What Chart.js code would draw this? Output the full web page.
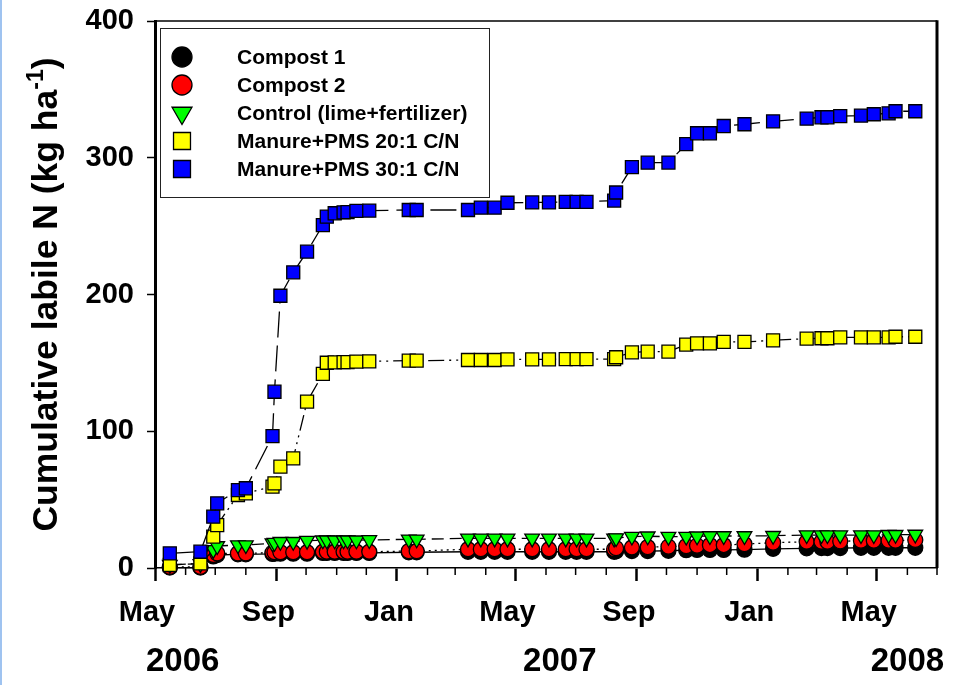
<!DOCTYPE html>
<html>
<head>
<meta charset="utf-8">
<script src="https://cdn.jsdelivr.net/npm/chart.js@4.4.1/dist/chart.umd.min.js"></script>
<style>
  html, body { margin: 0; padding: 0; background: #fff; }
  #wrap { position: relative; width: 961px; height: 685px; }
  #edge { position: absolute; left: 0; top: 0; width: 2px; height: 685px; background: #9fc3f0; }
</style>
</head>
<body>
<div id="wrap"><canvas id="chart" width="961" height="685"></canvas><div id="edge"></div></div>
<script>
'use strict'

// time axis runs from May 2006 to July 2008
const startDate = '2006-05-01';
const endDate = '2008-07-01';

const sampleDates = [
  '2006-05-16','2006-06-16','2006-06-29','2006-07-03','2006-07-24','2006-08-01','2006-08-28','2006-08-30',
  '2006-09-05','2006-09-18','2006-10-02','2006-10-18','2006-10-22','2006-10-30','2006-11-08','2006-11-12',
  '2006-11-21','2006-12-04','2007-01-13','2007-01-21','2007-03-14','2007-03-27','2007-04-10','2007-04-23',
  '2007-05-18','2007-06-04','2007-06-21','2007-07-02','2007-07-12','2007-08-09','2007-08-11','2007-08-27',
  '2007-09-12','2007-10-03','2007-10-21','2007-11-01','2007-11-14','2007-11-28','2007-12-19','2008-01-17',
  '2008-02-20','2008-03-06','2008-03-12','2008-03-25','2008-04-15','2008-04-28','2008-05-13','2008-05-20',
  '2008-06-09'
];

const compost1 = [0.3, 0.3, 8.5, 9.5, 10.0, 10.0, 10.3, 10.5, 10.5, 10.5, 10.5, 11.0, 11.0, 11.0, 11.0, 11.0,
  11.0, 11.0, 11.5, 11.5, 11.9, 11.9, 11.9, 11.9, 11.9, 11.9, 11.9, 11.9, 11.9, 11.9, 12.2, 12.4,
  12.4, 12.6, 13.0, 13.2, 13.2, 13.2, 13.4, 14.0, 14.4, 14.6, 14.6, 14.6, 14.8, 14.8, 14.8, 14.8, 14.8];
const compost2 = [0.8, 0.8, 9.5, 10.7, 10.7, 10.7, 11.2, 11.5, 11.5, 11.5, 11.5, 11.9, 11.9, 11.9, 11.9, 11.9,
  11.9, 11.9, 12.4, 12.4, 13.7, 13.7, 13.7, 13.7, 13.7, 13.7, 13.7, 13.7, 13.7, 13.7, 14.5, 15.0,
  15.3, 15.6, 16.0, 16.3, 16.8, 16.8, 17.5, 18.5, 19.2, 19.2, 19.2, 19.5, 20.0, 20.0, 20.0, 20.0, 20.5];
const control = [2.5, 3.0, 13.2, 16.1, 16.8, 16.8, 18.1, 18.5, 19.2, 19.2, 20.0, 20.3, 20.3, 20.3, 20.3, 20.3,
  20.3, 20.5, 21.0, 21.0, 21.7, 21.7, 21.7, 21.7, 21.7, 21.7, 21.7, 21.7, 21.7, 21.7, 21.9, 23.0,
  23.2, 22.9, 23.0, 23.2, 23.4, 23.4, 23.4, 23.6, 24.1, 24.1, 24.1, 24.1, 24.1, 24.1, 24.3, 24.3, 24.5];
const manure20 = [2.2, 3.4, 22.9, 31.4, 53.4, 54.6, 59.5, 61.9, 74.1, 80.2, 121.6, 141.9, 150.1, 150.4, 150.5, 150.6,
  150.9, 151.1, 151.6, 151.6, 152.1, 152.1, 152.1, 152.6, 152.6, 152.6, 152.8, 152.8, 152.8, 152.8, 154.1, 157.7,
  158.2, 158.2, 163.4, 164.3, 164.3, 165.3, 165.3, 166.5, 167.7, 168.0, 168.0, 168.7, 168.7, 168.7, 168.7, 169.1, 169.1];
const manure30 = [10.7, 11.9, 37.5, 47.3, 57.0, 58.3, 96.5, 128.9, 199.1, 216.2, 231.3, 250.8, 256.9, 259.4, 260.1, 260.3,
  261.1, 261.3, 261.8, 261.8, 261.8, 263.5, 263.5, 267.1, 267.3, 267.3, 267.8, 267.8, 267.8, 268.7, 274.6, 293.2,
  296.4, 296.5, 309.9, 317.9, 317.9, 323.2, 324.5, 326.6, 328.6, 329.6, 329.6, 330.5, 330.8, 331.8, 332.5, 334.0, 334.0];

const seriesNames = ['Compost 1', 'Compost 2', 'Control (lime+fertilizer)', 'Manure+PMS 20:1 C/N', 'Manure+PMS 30:1 C/N'];
const yTicks = [0, 100, 200, 300, 400];
const monthNames = ['Jan','Feb','Mar','Apr','May','Jun','Jul','Aug','Sep','Oct','Nov','Dec'];
const labeledMonths = ['May', 'Sep', 'Jan'];
const yearLabels = ['2006', '2007', '2008'];
const yearLabelDates = ['2006-05-29', '2007-06-15', '2008-06-01'];
const yTitle = ['Cumulative labile N (kg ha', '-1', ')'];

const FONT = "'Liberation Sans', Arial, Helvetica, sans-serif";
const dayOf = (d) => (Date.parse(d) - Date.parse(startDate)) / 86400000;

// a tick on the first day of every month
let monthTicks = [];
{
  let y = +startDate.slice(0, 4), m = +startDate.slice(5, 7) - 1;
  while (Date.UTC(y, m, 1) <= Date.parse(endDate)) {
    monthTicks.push({ value: (Date.UTC(y, m, 1) - Date.parse(startDate)) / 86400000, month: m });
    m++; if (m == 12) { m = 0; y++; }
  }
}
const isMajor = (m) => labeledMonths.includes(monthNames[m]);
const tickAt = (v) => monthTicks.find(t => Math.abs(t.value - v) < 0.01);

const points = (vals) => vals.map((v, i) => ({ x: dayOf(sampleDates[i]), y: v }));

const styles = [
  { fill: '#000000', shape: 'circle',   rot: 0,   r: 7.5, lr: 10,   dash: [],                    order: 5 },
  { fill: '#ff0000', shape: 'circle',   rot: 0,   r: 7.5, lr: 10,   dash: [2, 4],                order: 4 },
  { fill: '#00ff00', shape: 'triangle', rot: 180, r: 8.5, lr: 11.5, dash: [12, 6],               order: 3 },
  { fill: '#ffff00', shape: 'rect',     rot: 0,   r: 9.2, lr: 12,   dash: [16, 5, 2, 5, 2, 5],   order: 2 },
  { fill: '#0000ff', shape: 'rect',     rot: 0,   r: 9.2, lr: 12,   dash: [26, 8],               order: 1 }
];
const allSeries = [compost1, compost2, control, manure20, manure30];

const datasets = allSeries.map((vals, i) => ({
  label: seriesNames[i],
  data: points(vals),
  borderColor: '#000',
  borderWidth: 1.3,
  borderDash: styles[i].dash,
  pointStyle: styles[i].shape,
  pointRotation: styles[i].rot,
  pointRadius: styles[i].r,
  pointBackgroundColor: styles[i].fill,
  pointBorderColor: '#000',
  pointBorderWidth: 1.3,
  order: styles[i].order,
  clip: false,
  tension: 0,
  fill: false
}));

const noEdgePadding = (s) => { s.paddingTop = 0; s.paddingBottom = 0; s.paddingLeft = 0; s.paddingRight = 0; };

// minor month ticks and the top / right frame
const framePlugin = {
  id: 'frame',
  afterDraw(chart) {
    const ctx = chart.ctx, a = chart.chartArea, sx = chart.scales.x;
    ctx.save();
    ctx.strokeStyle = '#000';
    ctx.lineWidth = 1.5;
    for (let t of monthTicks) {
      if (isMajor(t.month)) continue;
      let px = sx.getPixelForValue(t.value);
      ctx.beginPath(); ctx.moveTo(px, a.bottom); ctx.lineTo(px, a.bottom + 7); ctx.stroke();
    }
    ctx.beginPath(); ctx.moveTo(a.left, a.top); ctx.lineTo(a.right, a.top); ctx.stroke();
    ctx.lineWidth = 3;
    ctx.beginPath(); ctx.moveTo(a.right, a.top - 0.75); ctx.lineTo(a.right, a.bottom); ctx.stroke();
    ctx.restore();
  }
};

// y title with the superscript
const titlePlugin = {
  id: 'yTitle',
  afterDraw(chart) {
    const ctx = chart.ctx, a = chart.chartArea;
    const big = 'bold 35.5px ' + FONT, small = 'bold 23px ' + FONT;
    ctx.save();
    ctx.fillStyle = '#000';
    ctx.textBaseline = 'alphabetic';
    ctx.translate(57, (a.top + a.bottom) / 2);
    ctx.rotate(-Math.PI / 2);
    ctx.font = big;
    let w1 = ctx.measureText(yTitle[0]).width, w3 = ctx.measureText(yTitle[2]).width;
    ctx.font = small;
    let w2 = ctx.measureText(yTitle[1]).width;
    let x = -(w1 + w2 + w3) / 2;
    ctx.font = big; ctx.fillText(yTitle[0], x, 0); x += w1;
    ctx.font = small; ctx.fillText(yTitle[1], x, -14); x += w2;
    ctx.font = big; ctx.fillText(yTitle[2], x, 0);
    ctx.restore();
  }
};

// boxed legend inside the plot
const legendPlugin = {
  id: 'boxLegend',
  afterDraw(chart) {
    const ctx = chart.ctx, a = chart.chartArea;
    ctx.save();
    ctx.strokeStyle = '#222';
    ctx.lineWidth = 1;
    ctx.strokeRect(a.left + 5.5, a.top + 7.5, 329, 169);
    chart.data.datasets.forEach((ds, i) => {
      let y = a.top + 36 + i * 28;
      ctx.fillStyle = ds.pointBackgroundColor;
      ctx.strokeStyle = '#000';
      ctx.lineWidth = 1.3;
      Chart.helpers.drawPoint(ctx, { pointStyle: ds.pointStyle, rotation: ds.pointRotation, radius: styles[i].lr, borderWidth: 1.3 }, a.left + 27, y);
      ctx.fillStyle = '#000';
      ctx.font = 'bold 21px ' + FONT;
      ctx.textBaseline = 'middle';
      ctx.textAlign = 'left';
      ctx.fillText(ds.label, a.left + 82, y + 1);
    });
    ctx.restore();
  }
};

new Chart(document.getElementById('chart'), {
  type: 'line',
  data: { datasets: datasets },
  plugins: [framePlugin, titlePlugin, legendPlugin],
  options: {
    responsive: false,
    animation: false,
    devicePixelRatio: 1,
    layout: { padding: { left: 0, top: 21, right: 24, bottom: 0 } },
    plugins: { legend: { display: false }, tooltip: { enabled: false } },
    scales: {
      x: {
        type: 'linear', position: 'bottom', weight: 0,
        min: dayOf(startDate), max: dayOf(endDate),
        afterBuildTicks: (s) => { s.ticks = monthTicks.map(t => ({ value: t.value })); },
        afterFit: (s) => { s.height = 70; noEdgePadding(s); },
        ticks: {
          autoSkip: false, maxRotation: 0, minRotation: 0, padding: 15, labelOffset: -8,
          color: '#000', font: { family: FONT, size: 29, weight: 'bold' },
          callback: (v) => { let t = tickAt(v); return t && isMajor(t.month) ? monthNames[t.month] : ''; }
        },
        grid: {
          drawOnChartArea: false, drawTicks: true, tickLength: 13, tickWidth: 2.5,
          tickColor: (c) => { let t = c.tick && tickAt(c.tick.value); return t && isMajor(t.month) ? '#000' : 'rgba(0,0,0,0)'; }
        },
        border: { display: true, color: '#000', width: 1.5 }
      },
      x2: {
        type: 'linear', position: 'bottom', weight: 1,
        min: dayOf(startDate), max: dayOf(endDate),
        afterBuildTicks: (s) => { s.ticks = yearLabelDates.map(d => ({ value: dayOf(d) })); },
        afterFit: (s) => { s.height = 47; noEdgePadding(s); },
        ticks: {
          autoSkip: false, maxRotation: 0, minRotation: 0, padding: 4,
          color: '#000', font: { family: FONT, size: 33, weight: 'bold' },
          callback: (v, i) => yearLabels[i]
        },
        grid: { display: false, drawTicks: false },
        border: { display: false }
      },
      y: {
        min: 0, max: 400,
        afterBuildTicks: (s) => { s.ticks = yTicks.map(v => ({ value: v })); },
        afterFit: (s) => { s.width = 155; noEdgePadding(s); },
        ticks: { padding: 13, color: '#000', font: { family: FONT, size: 29, weight: 'bold' } },
        grid: { drawOnChartArea: false, drawTicks: true, tickLength: 8, tickWidth: 1.5, tickColor: '#000' },
        border: { display: true, color: '#000', width: 3 }
      }
    }
  }
});
</script>
</body>
</html>
